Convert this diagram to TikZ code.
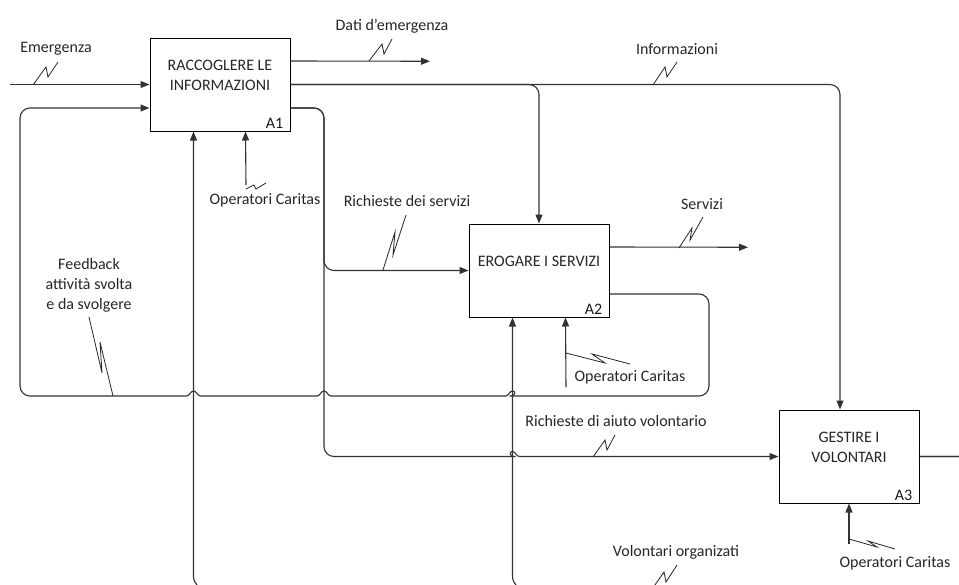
\documentclass[tikz,border=0pt]{standalone}
\usepackage{fontspec}
\setmainfont{Carlito}
\usetikzlibrary{arrows.meta,calc}
\begin{document}
\begin{tikzpicture}[x=1pt,y=-1pt,
  font=\fontsize{16}{20}\selectfont,
  flow/.style={draw=black!80, line width=1.1pt},
  arr/.style={flow, -{Triangle[length=9pt,width=7pt]}},
  squig/.style={draw=black!85, line width=0.8pt},
  proc/.style={draw=black, line width=1pt, minimum width=140pt,
    minimum height=93pt, inner sep=0pt},
  txt/.style={align=center, inner sep=0pt, text=black!85},
  tag/.style={anchor=base east, inner sep=0pt, text=black!90}]

\useasboundingbox (0,0) rectangle (959,584);
\clip (0,0) rectangle (959,584);

% activity boxes
\node[proc] (a1) at (220,84.5) {};
\node[proc] (a2) at (539,270.5) {};
\node[proc] (a3) at (849,456.5) {};

\node[txt] (a1t) at ([yshift=9.5pt]a1.center) {RACCOGLERE LE\\INFORMAZIONI};
\node[txt] (a2t) at ([yshift=9.5pt]a2.center) {EROGARE I SERVIZI};
\node[txt] (a3t) at ([yshift=9.5pt]a3.center) {GESTIRE I\\VOLONTARI};
\node[tag] (a1n) at ([xshift=-7pt,yshift=3.5pt]a1.south east) {A1};
\node[tag] (a2n) at ([xshift=-7pt,yshift=3.5pt]a2.south east) {A2};
\node[tag] (a3n) at ([xshift=-7pt,yshift=3.5pt]a3.south east) {A3};

% ports on the box sides
\coordinate (a1o1) at ($(a1.north east)!0.25!(a1.south east)$);
\coordinate (a1o3) at ($(a1.north east)!0.75!(a1.south east)$);
\coordinate (a1i2) at ($(a1.north west)!0.75!(a1.south west)$);
\coordinate (a2o1) at ($(a2.north east)!0.25!(a2.south east)$);
\coordinate (a2o3) at ($(a2.north east)!0.75!(a2.south east)$);
\coordinate (a1m) at ($(a1.south west)+(44,0)$);
\coordinate (a1c) at ($(a1.south west)+(96,0)$);
\coordinate (a2m) at ($(a2.south west)+(44,0)$);
\coordinate (a2c) at ($(a2.south west)+(97,0)$);
\coordinate (a3c) at (a3.south);
\coordinate (a3top) at ($(a3.north)+(-9,0)$);

% free ends and routing points
\coordinate (emin) at (10,84.5);
\coordinate (dati) at (430,61.25);
\coordinate (serv) at (748,247.25);
\coordinate (op1) at (246,185);
\coordinate (op2) at (566,387);
\coordinate (op3) at (849,544);
\coordinate (split) at (324,0);
\coordinate (lr) at (709,396);
\coordinate (ll) at (20,396);
\coordinate (ret) at (975,590);

% crossings where a horizontal line hops over a vertical one
\coordinate (j1) at (a1m |- lr);
\coordinate (j2) at (split |- lr);
\coordinate (j3) at (a2m |- lr);
\coordinate (j4) at (a2m |- a3.west);

% inputs and outputs
\draw[arr] (emin) -- (a1.west);
\draw[arr] (a1o1) -- (dati);
\draw[arr, rounded corners=10pt] (a1.east) -| (a3top);
\draw[arr, rounded corners=10pt] (a1.east) -| (a2.north);
\draw[arr, rounded corners=10pt] (a1o3) -| (split |- a2.west) -- (a2.west);
\draw[arr, rounded corners=10pt] (a1o3) -| (split |- a3.west) -- ([xshift=-7pt]j4)
  [sharp corners] to[out=0,in=180] ([yshift=5pt]j4) to[out=0,in=180] ([xshift=7pt]j4)
  -- (a3.west);
\draw[arr] (a2o1) -- (serv);

% feedback loop from A2 back to A1
\draw[arr, rounded corners=10pt] (a2o3) -| (lr) -- ([xshift=7pt]j3)
  [sharp corners] to[out=180,in=0] ([yshift=5pt]j3) to[out=180,in=0] ([xshift=-7pt]j3)
  -- ([xshift=7pt]j2) to[out=180,in=0] ([yshift=5pt]j2) to[out=180,in=0] ([xshift=-7pt]j2)
  -- ([xshift=7pt]j1) to[out=180,in=0] ([yshift=5pt]j1) to[out=180,in=0] ([xshift=-7pt]j1)
  [rounded corners=10pt] -- (ll) |- (a1i2);

% volunteers returned from A3 to A1 and A2
\draw[arr, rounded corners=14pt] (a3.east) -| (ret) -| (a1m);
\draw[arr, rounded corners=14pt] (a3.east) -| (ret) -| (a2m);

% mechanisms
\draw[arr] (op1) -- (a1c);
\draw[arr] (op2) -- (a2c);
\draw[arr] (op3) -- (a3c);

% labels
\node[txt] (l1) at (56,49) {Emergenza};
\node[txt] (l2) at (392,26) {Dati d’emergenza};
\node[txt] (l3) at (677,49) {Informazioni};
\node[txt] (l4) at (407,201) {Richieste dei servizi};
\node[txt] (l5) at (702,204) {Servizi};
\node[txt] (l6) at (89,285) {Feedback\\attività svolta\\e da svolgere};
\node[txt] (l7) at (265,200) {Operatori Caritas};
\node[txt] (l8) at (630,377) {Operatori Caritas};
\node[txt] (l9) at (616,421) {Richieste di aiuto volontario};
\node[txt] (l10) at (676,552) {Volontari organizati};
\node[txt] (l11) at (895,563) {Operatori Caritas};

% squiggles tying labels to their arrows
\draw[squig] (33,85) -- (46,67) -- (48,77) -- (58,62);
\draw[squig] (369,61) -- (382,44) -- (384,54) -- (392,39);
\draw[squig] (653,85) -- (665,67) -- (667,77) -- (677,62);
\draw[squig] (383,270) -- (395,232) -- (393,255) -- (406,215);
\draw[squig] (679,248) -- (692,228) -- (690,240) -- (703,217);
\draw[squig] (89,317) -- (102,373) -- (100,342) -- (113,396);
\draw[squig] (246,189) -- (254,185) -- (256,189) -- (266,183);
\draw[squig] (566,353) -- (605,363) -- (592,354) -- (630,364);
\draw[squig] (849,539) -- (877,547) -- (868,541) -- (895,549);
\draw[squig] (593,457) -- (605,440) -- (607,450) -- (615,435);
\draw[squig] (650,592) -- (664,572) -- (666,582) -- (677,565);
\end{tikzpicture}
\end{document}
